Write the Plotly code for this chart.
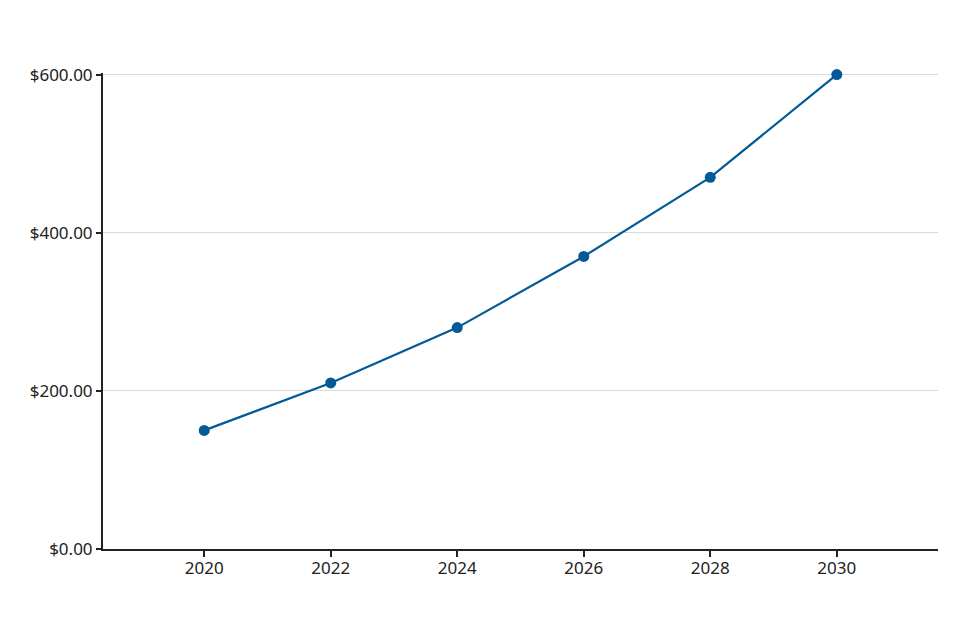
import plotly.graph_objects as go

# data
years = [2020, 2022, 2024, 2026, 2028, 2030]
values = [150, 210, 280, 370, 470, 600]
y_ticks = [0, 200, 400, 600]
y_tick_labels = ["$0.00", "$200.00", "$400.00", "$600.00"]

line_color = "#045a96"
axis_color = "#222222"
tick_font = dict(family="Noto Sans, Open Sans, sans-serif", size=17, color="#222222")

fig = go.Figure(go.Scatter(
    x=years, y=values,
    mode="lines+markers",
    line=dict(color=line_color, width=2.2),
    marker=dict(color=line_color, size=11),
    cliponaxis=False,
    hoverinfo="x+y",
))

# the page adds an 8px body margin, so the margins are shifted to compensate
fig.update_layout(
    width=960, height=640,
    margin=dict(l=95, r=30, t=65, b=99),
    paper_bgcolor="white",
    plot_bgcolor="white",
    showlegend=False,
    font=tick_font,
    xaxis=dict(
        range=[2018.4, 2031.6],
        tickvals=years,
        ticktext=[str(y) for y in years],
        tickfont=tick_font,
        ticklabelstandoff=-3,
        showgrid=False,
        zeroline=False,
        showline=True, linecolor=axis_color, linewidth=2,
        ticks="outside", ticklen=6, tickwidth=2, tickcolor=axis_color,
    ),
    yaxis=dict(
        range=[0, 602],
        tickvals=y_ticks,
        ticktext=y_tick_labels,
        tickfont=tick_font,
        showgrid=True, gridcolor="#d9d9d9", gridwidth=1.2,
        zeroline=False,
        showline=True, linecolor=axis_color, linewidth=2,
        ticks="outside", ticklen=5, tickwidth=2, tickcolor=axis_color,
    ),
)

fig.write_html("out.html")
